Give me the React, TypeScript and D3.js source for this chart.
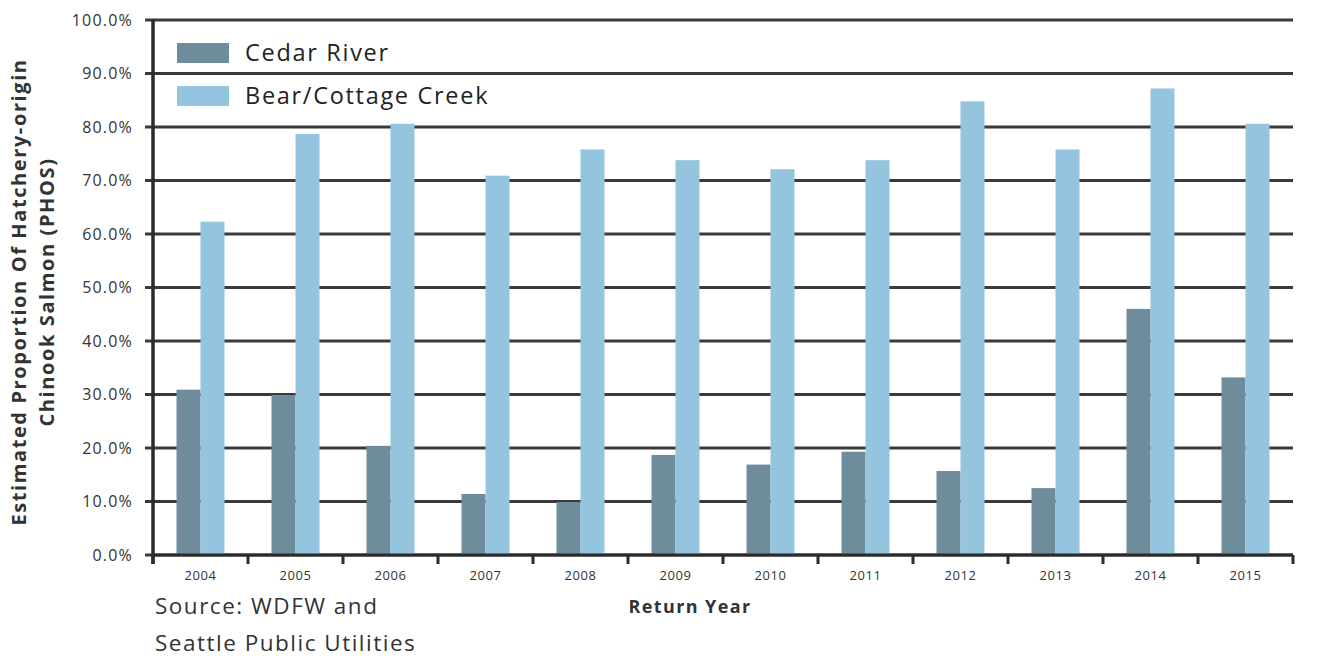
import React from "react";
import * as d3 from "d3";

const years = ["2004","2005","2006","2007","2008","2009","2010","2011","2012","2013","2014","2015"];
const seriesNames = ["Cedar River", "Bear/Cottage Creek"];
const cedarRiver = [30.9, 29.9, 20.4, 11.4, 9.9, 18.7, 16.9, 19.3, 15.7, 12.5, 46.0, 33.2];
const bearCottage = [62.3, 78.7, 80.6, 70.9, 75.8, 73.8, 72.1, 73.8, 84.8, 75.8, 87.2, 80.6];
const yTicks = [0, 10, 20, 30, 40, 50, 60, 70, 80, 90, 100];
const colors = ["#6f8c9d", "#94c4de"];

const W = 1322, H = 660;
const left = 153, right = 1293, top = 20, bottom = 555;
const FONT = "'Open Sans', sans-serif";

export default function App() {
  const x = d3.scaleBand<string>().domain(years).range([left, right]).paddingInner(0).paddingOuter(0);
  const bw = x.bandwidth();
  const sub = d3.scaleBand<string>().domain(seriesNames).range([0, bw]).paddingInner(0).paddingOuter((bw / 24 - 2) / 2);
  const y = d3.scaleLinear().domain([0, 100]).range([bottom, top]);
  const data = [cedarRiver, bearCottage];
  const boundaries = d3.range(years.length + 1).map((i) => left + i * bw);
  const grid = "#3a3a3a";

  return (
    <svg width={W} height={H} style={{ position: "absolute", left: 0, top: 0, background: "#fff" }} fontFamily={FONT}>
      {yTicks.map((t) => (
        <line key={"g" + t} x1={145} x2={right} y1={y(t)} y2={y(t)} stroke={grid} strokeWidth={3} />
      ))}
      {data.map((vals, si) =>
        vals.map((v, i) => (
          <rect key={si + "-" + i} x={(x(years[i]) as number) + (sub(seriesNames[si]) as number)} y={y(v)} width={sub.bandwidth()} height={y(0) - y(v)} fill={colors[si]} />
        ))
      )}
      <line x1={left} x2={left} y1={top - 1} y2={bottom + 9} stroke="#2b2b2b" strokeWidth={3.5} />
      <line x1={left} x2={right} y1={bottom} y2={bottom} stroke="#2b2b2b" strokeWidth={3} />
      {boundaries.map((bx, i) => (
        <line key={"xt" + i} x1={bx} x2={bx} y1={bottom} y2={bottom + 9} stroke="#2b2b2b" strokeWidth={3} />
      ))}
      {yTicks.map((t) => (
        <text key={"yl" + t} x={133} y={y(t)} dy="0.35em" textAnchor="end" fontSize={16} letterSpacing={1.2} fill="#333">{t.toFixed(1) + "%"}</text>
      ))}
      {years.map((yr) => (
        <text key={"xl" + yr} x={(x(yr) as number) + bw / 2} y={580} textAnchor="middle" fontSize={13} letterSpacing={0.6} fill="#333">{yr}</text>
      ))}
      <text transform="translate(26,292) rotate(-90)" textAnchor="middle" fontSize={20} fontWeight="bold" letterSpacing={1.6} fill="#333">Estimated Proportion Of Hatchery-origin</text>
      <text transform="translate(54,292) rotate(-90)" textAnchor="middle" fontSize={20} fontWeight="bold" letterSpacing={1.6} fill="#333">Chinook Salmon (PHOS)</text>
      <text x={690} y={613} textAnchor="middle" fontSize={18} fontWeight="bold" letterSpacing={1.4} fill="#333">Return Year</text>
      <text x={155} y={614} fontSize={22.5} letterSpacing={1.5} fill="#333">Source: WDFW and</text>
      <text x={155} y={651} fontSize={22.5} letterSpacing={1.5} fill="#333">Seattle Public Utilities</text>
      {seriesNames.map((s, i) => (
        <g key={"lg" + s} transform={`translate(177,${43 + i * 43})`}>
          <rect x={0} y={0} width={52} height={20} fill={colors[i]} />
          <text x={68} y={10} dy="0.36em" fontSize={23.5} letterSpacing={1.7} fill="#222">{s}</text>
        </g>
      ))}
    </svg>
  );
}
